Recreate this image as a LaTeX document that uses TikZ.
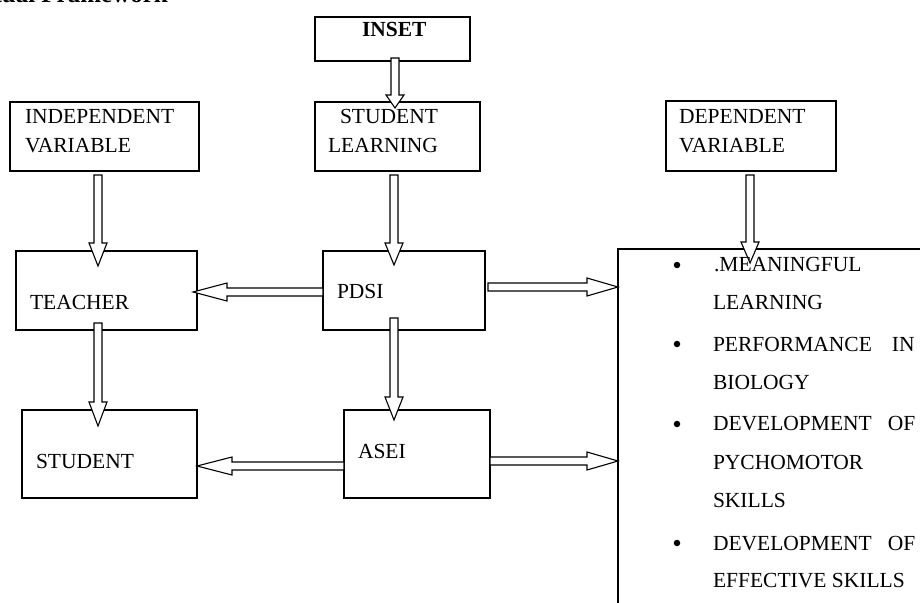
\documentclass[tikz,border=0pt]{standalone}
\usepackage{fontspec}
\setmainfont{Liberation Serif}
\usetikzlibrary{calc}
\tikzset{
  box/.style={draw=black, line width=1.1pt, inner sep=0pt, outer sep=0pt, anchor=north west},
  lbl/.style={anchor=base west, inner sep=0pt, outer sep=0pt},
  blockline/.style={draw=black, line width=1.1pt, fill=white, line join=miter},
  bullet/.style={circle, fill=black, inner sep=0pt, minimum size=6.5pt},
  barrow/.style={to path={
    let \p1=(\tikztostart), \p2=(\tikztotarget),
        \n1={atan2(\y2-\y1,\x2-\x1)},
        \n2={veclen(\x2-\x1,\y2-\y1)-#1}
    in ($(\p1)+(\n1+90:4)$) -- ($(\p1)+(\n1:\n2)+(\n1+90:4)$)
       -- ($(\p1)+(\n1:\n2)+(\n1+90:9)$) -- (\p2)
       -- ($(\p1)+(\n1:\n2)+(\n1-90:9)$) -- ($(\p1)+(\n1:\n2)+(\n1-90:4)$)
       -- ($(\p1)+(\n1-90:4)$) -- cycle}},
  barrow/.default=24
}
\begin{document}
\begin{tikzpicture}[x=1pt, y=1pt, font=\fontsize{21.5}{25}\selectfont]
\useasboundingbox (0,0) rectangle (920,-602);
\fill[white] (0,0) rectangle (920,-602);
\clip (0,0) rectangle (920,-602);

% title (cut by the top edge, as in the reference)
\node[anchor=base east, inner sep=0pt, font=\fontsize{25}{28}\selectfont\bfseries] (title) at (168,-2.5) {Conceptual Framework};

% boxes
\node[box, minimum width=155pt, minimum height=44pt] (inset) at (315,-17) {};
\node[box, minimum width=165pt, minimum height=69pt] (sl) at (315,-102) {};
\node[box, minimum width=189pt, minimum height=69pt] (iv) at (10,-102) {};
\node[box, minimum width=170pt, minimum height=70pt] (dv) at (666,-101) {};
\node[box, minimum width=181pt, minimum height=79pt] (teacher) at (16,-251) {};
\node[box, minimum width=162pt, minimum height=79pt] (pdsi) at (323,-251) {};
\node[box, minimum width=175pt, minimum height=88pt] (student) at (22,-410) {};
\node[box, minimum width=146pt, minimum height=88pt] (asei) at (344,-410) {};
\node[box, minimum width=400pt, minimum height=400pt] (rbox) at (618,-249) {};

% box texts
\node[lbl, font=\fontsize{21.5}{25}\selectfont\bfseries] (tinset) at (362,-36.5) {INSET};
\node[lbl] (tsl1) at (340,-123) {STUDENT};
\node[lbl] (tsl2) at (328,-152) {LEARNING};
\node[lbl] (tiv1) at (25,-123) {INDEPENDENT};
\node[lbl] (tiv2) at (25,-152) {VARIABLE};
\node[lbl] (tdv1) at (679,-123) {DEPENDENT};
\node[lbl] (tdv2) at (679,-152) {VARIABLE};
\node[lbl] (tteacher) at (30,-309) {TEACHER};
\node[lbl] (tpdsi) at (337,-298) {PDSI};
\node[lbl] (tstudent) at (36,-468) {STUDENT};
\node[lbl] (tasei) at (358,-458) {ASEI};

% block arrows
\path[blockline] ($(inset.south)+(2.5,3)$) to[barrow=13] ($(sl.north)+(-2.5,-6)$);
\path[blockline] ($(sl.south)+(-3.5,-4)$) to[barrow=22] ($(pdsi.north)+(-10,-14)$);
\path[blockline] ($(iv.south)+(-6.5,-4)$) to[barrow=23] ($(teacher.north)+(-8.5,-15)$);
\path[blockline] ($(dv.south)+(-1,-4)$) to[barrow=21] ($(rbox.north west)+(132,-14)$);
\path[blockline] ($(pdsi.west)+(0,-1.5)$) to[barrow=34] ($(teacher.east)+(-4,-1.5)$);
\path[blockline] ($(teacher.south)+(-8.5,7)$) to[barrow=24] ($(student.north)+(-11.5,-16)$);
\path[blockline] ($(pdsi.south)+(-10,12)$) to[barrow=23] ($(asei.north)+(-23,-10)$);
\path[blockline] ($(pdsi.east)+(3,3.5)$) to[barrow=31] ($(rbox.north west)+(0,-38)$);
\path[blockline] ($(asei.west)+(0,-12)$) to[barrow=35] ($(student.east)+(0,-12)$);
\path[blockline] ($(asei.east)+(0,-7)$) to[barrow=31] ($(rbox.north west)+(0,-212)$);

% list in the right box
\node[bullet] (b1) at (677,-265) {};
\node[bullet] (b2) at (677,-344) {};
\node[bullet] (b3) at (677,-424) {};
\node[bullet] (b4) at (677,-543) {};
\node[lbl] (m1) at (714,-271) {.MEANINGFUL};
\node[lbl] (m2) at (713,-309) {LEARNING};
\node[lbl] (m3) at (713,-351) {PERFORMANCE\hspace{20pt}IN};
\node[lbl] (m4) at (713,-389) {BIOLOGY};
\node[lbl] (m5) at (713,-430) {DEVELOPMENT\hspace{16pt}OF};
\node[lbl] (m6) at (713,-469) {PYCHOMOTOR};
\node[lbl] (m7) at (713,-507) {SKILLS};
\node[lbl] (m8) at (713,-550) {DEVELOPMENT\hspace{16pt}OF};
\node[lbl] (m9) at (713,-587) {EFFECTIVE SKILLS};
\end{tikzpicture}
\end{document}
